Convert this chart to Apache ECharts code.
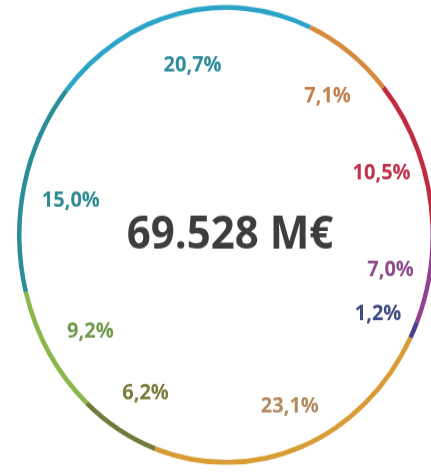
<!DOCTYPE html>
<html>
<head>
<meta charset="utf-8">
<script src="https://cdn.jsdelivr.net/npm/echarts@6/dist/echarts.min.js"></script>
<style>
html,body{margin:0;padding:0;background:#fff;width:431px;height:472px;}
#wrap{position:absolute;left:0;top:0;width:431px;height:472px;overflow:visible;}
#c{position:absolute;left:0;top:0;width:431px;height:429px;transform:scaleY(1.1);transform-origin:0 0;}
</style>
</head>
<body>
<div id="wrap"><div id="c"></div></div>
<script>
const categories = ['A','B','C','D','E','F','G','H','I'];
const values = [7.1, 10.5, 7.0, 1.2, 23.1, 6.2, 9.2, 15.0, 20.7];
const labels = ['7,1%','10,5%','7,0%','1,2%','23,1%','6,2%','9,2%','15,0%','20,7%'];
const arcColors = ['#d58a3e','#c02b3e','#93418f','#4b3f8c','#d99c35','#71793a','#8cb64c','#2a8e97','#2ba4c8'];
const labelColors = ['#c27f4d','#c0314a','#8b4a8b','#3f4a80','#b1895c','#7b7a3d','#6f9a4c','#2f8a90','#2c8a9b'];
const totalText = '69.528 M€';

const chart = echarts.init(document.getElementById('c'));
const cx = 226, cy = 213.6;
chart.setOption({
  animation: false,
  series: [
    {
      type: 'pie',
      center: [cx, cy],
      radius: [204.5, 209],
      startAngle: 66,
      clockwise: true,
      silent: true,
      label: {show: false},
      labelLine: {show: false},
      data: values.map((v, i) => ({name: categories[i], value: v, itemStyle: {color: arcColors[i]}}))
    },
    {
      type: 'pie',
      center: [cx + 4, cy + 4],
      radius: [126, 194],
      startAngle: 66,
      clockwise: true,
      silent: true,
      itemStyle: {color: 'rgba(0,0,0,0)'},
      labelLine: {show: false},
      data: values.map((v, i) => ({
        name: categories[i], value: v,
        label: {
          show: true, position: 'inside', formatter: labels[i],
          color: labelColors[i], fontFamily: 'Open Sans', fontWeight: 'bold', fontSize: 20
        }
      }))
    }
  ],
  graphic: [{
    type: 'text',
    x: 230, y: cy,
    style: {
      text: totalText, fill: '#3d3d3f', fontFamily: 'Open Sans', fontWeight: 'bold', fontSize: 42,
      align: 'center', verticalAlign: 'middle'
    }
  }]
});
</script>
</body>
</html>
